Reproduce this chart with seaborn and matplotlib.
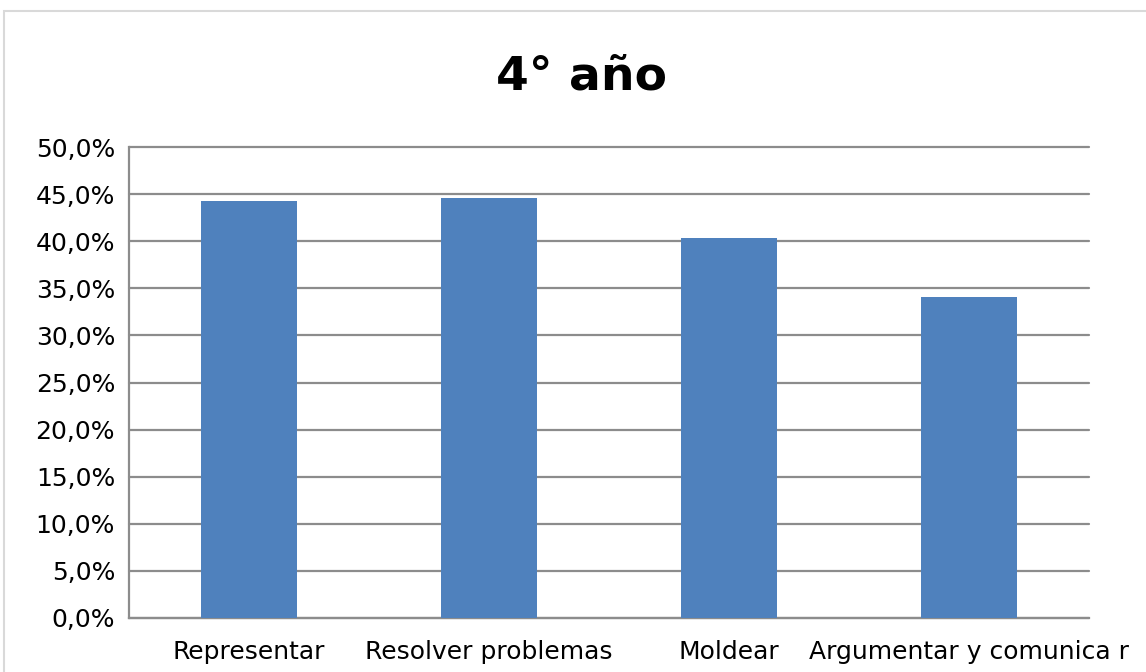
import numpy as np
import matplotlib
matplotlib.use("Agg")
import matplotlib.pyplot as plt
import matplotlib.patches as patches
import seaborn as sns

# data
categorias = ["Representar", "Resolver problemas", "Moldear", "Argumentar y comunica r"]
valores = [44.3, 44.6, 40.3, 34.1]
titulo = "4° año"

sns.set_style("white")
plt.rcParams['font.family'] = ['DejaVu Sans']
plt.rcParams['text.color'] = 'black'
plt.rcParams['xtick.labelcolor'] = 'black'
plt.rcParams['ytick.labelcolor'] = 'black'

fig = plt.figure(figsize=(11.46, 6.72), dpi=100)
ax = fig.add_axes([129 / 1146, 1 - 618 / 672, 960 / 1146, 471 / 672])

# light frame around the chart area
fig.patches.append(patches.Rectangle(
    (3.5 / 1146, -0.1), 1.2, 1 - 10.5 / 672 + 0.1, transform=fig.transFigure,
    fill=False, edgecolor='#d9d9d9', linewidth=1.5, zorder=0))

gris = '#8c8c8c'
sns.barplot(x=categorias, y=[v / 100 for v in valores], color='#4F81BD',
            width=0.4, saturation=1, linewidth=0, ax=ax, zorder=3)

ax.set_ylim(0, 0.5)
ax.set_xlim(-0.5, len(categorias) - 0.5)
yt = np.arange(0, 0.501, 0.05)
ax.set_yticks(yt)
ax.set_yticklabels([f"{t*100:.1f}%".replace('.', ',') for t in yt], fontsize=18)
ax.yaxis.grid(True, color=gris, linewidth=1.6, zorder=0)
ax.set_axisbelow(True)
for gl in ax.get_ygridlines():
    gl.set_clip_on(False)

# category boundaries as ticks, labels centred on minor ticks
ax.set_xticks(np.arange(-0.5, len(categorias), 1.0))
ax.set_xticklabels([])
ax.set_xticks(np.arange(len(categorias)), labels=categorias, minor=True, fontsize=18)
ax.tick_params(axis='x', which='major', length=10, width=1.5, color=gris, direction='out')
ax.tick_params(axis='x', which='minor', length=0, pad=16)
ax.tick_params(axis='y', length=8, width=1.5, color=gris, direction='out', pad=2)

for s in ['top', 'right']:
    ax.spines[s].set_visible(False)
for s in ['left', 'bottom']:
    ax.spines[s].set_color(gris)
    ax.spines[s].set_linewidth(1.6)

ax.set_xlabel("")
ax.set_ylabel("")
fig.text(582 / 1146, 1 - 77 / 672, titulo, ha='center', va='center',
         fontsize=34, fontweight='bold', color='black')

fig.savefig("out.png", dpi=100)
plt.close('all')
